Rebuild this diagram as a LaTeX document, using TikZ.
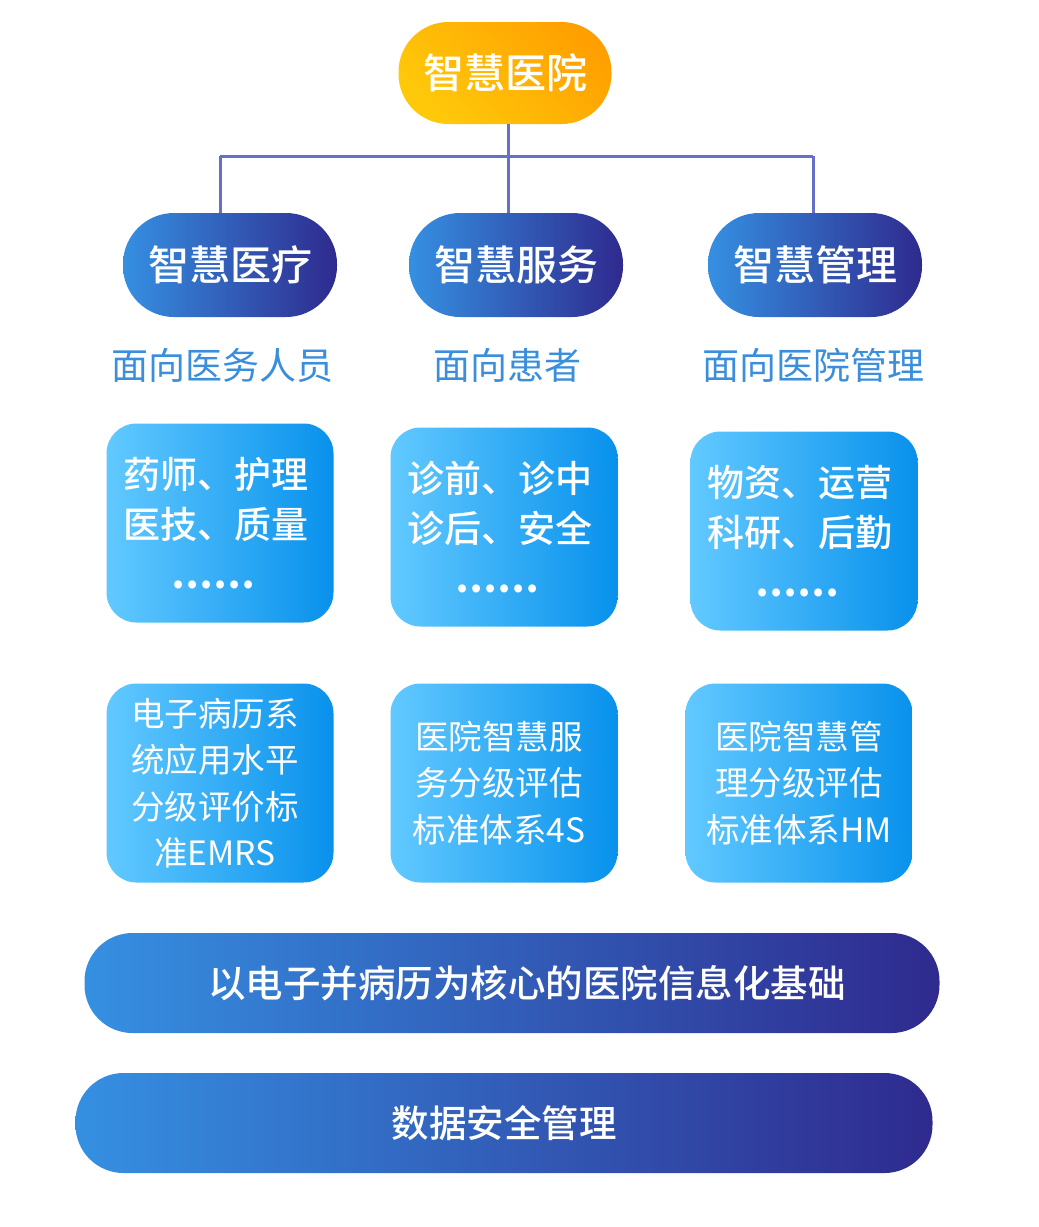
\documentclass[tikz,border=0pt]{standalone}
\usepackage{fontspec}
\setmainfont{Noto Sans CJK SC}
\newfontfamily\mediumcjk{Noto Sans CJK SC Medium}
\usetikzlibrary{positioning}

\definecolor{sunYellow}{HTML}{FFC90A}
\definecolor{sunOrange}{HTML}{FFA000}
\definecolor{pillLeft}{HTML}{3590E2}
\definecolor{pillRight}{HTML}{2F2A8E}
\definecolor{boxLeft}{HTML}{62C9FF}
\definecolor{boxRight}{HTML}{0891EC}
\definecolor{linkBlue}{HTML}{6670C8}
\definecolor{labelBlue}{HTML}{3A8EDC}

\begin{document}
\begin{tikzpicture}[x=1pt, y=-1pt, node distance=20pt,
    root/.style={rounded corners=50pt, minimum width=213pt, minimum height=102pt,
      top color=sunOrange, bottom color=sunYellow, shading angle=-45,
      text=white, font=\fontsize{41}{41}\selectfont\mediumcjk},
    pill/.style={rounded corners=51pt, minimum width=214pt, minimum height=104pt,
      left color=pillLeft, right color=pillRight,
      text=white, font=\fontsize{41}{41}\selectfont\mediumcjk},
    target/.style={text=labelBlue, font=\fontsize{37}{37}\selectfont},
    scope box/.style={rounded corners=30pt, minimum width=227pt, minimum height=199pt,
      left color=boxLeft, right color=boxRight, text=white, align=center,
      font=\fontsize{37}{50}\selectfont\mediumcjk},
    grade box/.style={rounded corners=30pt, minimum width=227pt, minimum height=199pt,
      left color=boxLeft, right color=boxRight, text=white, align=center,
      font=\fontsize{33.5}{46.5}\selectfont},
    base/.style={rounded corners=48pt, minimum height=100pt,
      left color=pillLeft, right color=pillRight,
      text=white, font=\fontsize{37.5}{37.5}\selectfont\mediumcjk},
    link/.style={draw=linkBlue, line width=3pt}]
    \useasboundingbox (0,0) rectangle (1039,1227);

    \node[root] (hospital) at (505,73) {智慧医院};

    \node[pill] (medical) at (230,265) {智慧医疗};
    \node[pill] (service) at (516,265) {智慧服务};
    \node[pill] (manage) at (815,265) {智慧管理};

    \node[target] (forStaff) at (222,365) {面向医务人员};
    \node[target] (forPatient) at (507,365) {面向患者};
    \node[target] (forAdmin) at (813,365) {面向医院管理};

    % box text sits a little left of centre
    \node[scope box] (staffScope) at (220,523) {药师、护理\kern8pt\\医技、质量\kern8pt\\{\bfseries ……}\kern14pt};
    \node[scope box] (patientScope) at (504,527) {诊前、诊中\kern8pt\\诊后、安全\kern8pt\\{\bfseries ……}\kern14pt};
    \node[scope box] (adminScope) at (804,531) {物资、运营\kern8pt\\科研、后勤\kern8pt\\{\bfseries ……}\kern14pt};

    \node[grade box] (emrs) at (220,783) {电子病历系\kern10pt\\统应用水平\kern10pt\\分级评价标\kern10pt\\准EMRS\kern10pt};
    \node[grade box] (fourS) at (504,783) {医院智慧服\kern10pt\\务分级评估\kern10pt\\标准体系4S\kern10pt};
    \node[grade box] (hm) at (799,783) {医院智慧管\\理分级评估\\标准体系HM};

    \node[base, minimum width=855pt] (emr) at (512,983) {\hspace{30pt}以电子并病历为核心的医院信息化基础};
    \node[base, minimum width=857pt] (security) at (504,1123) {数据安全管理};

    \coordinate (busLeft) at (220,156);
    \coordinate (busRight) at (813,156);
    \draw[link] (busLeft) -- (busRight);
    \draw[link] (hospital.south -| 508,0) -- (service.north -| 508,0);
    \draw[link] (busLeft) -- (busLeft |- medical.north);
    \draw[link] (busRight) -- (busRight |- manage.north);
\end{tikzpicture}
\end{document}
